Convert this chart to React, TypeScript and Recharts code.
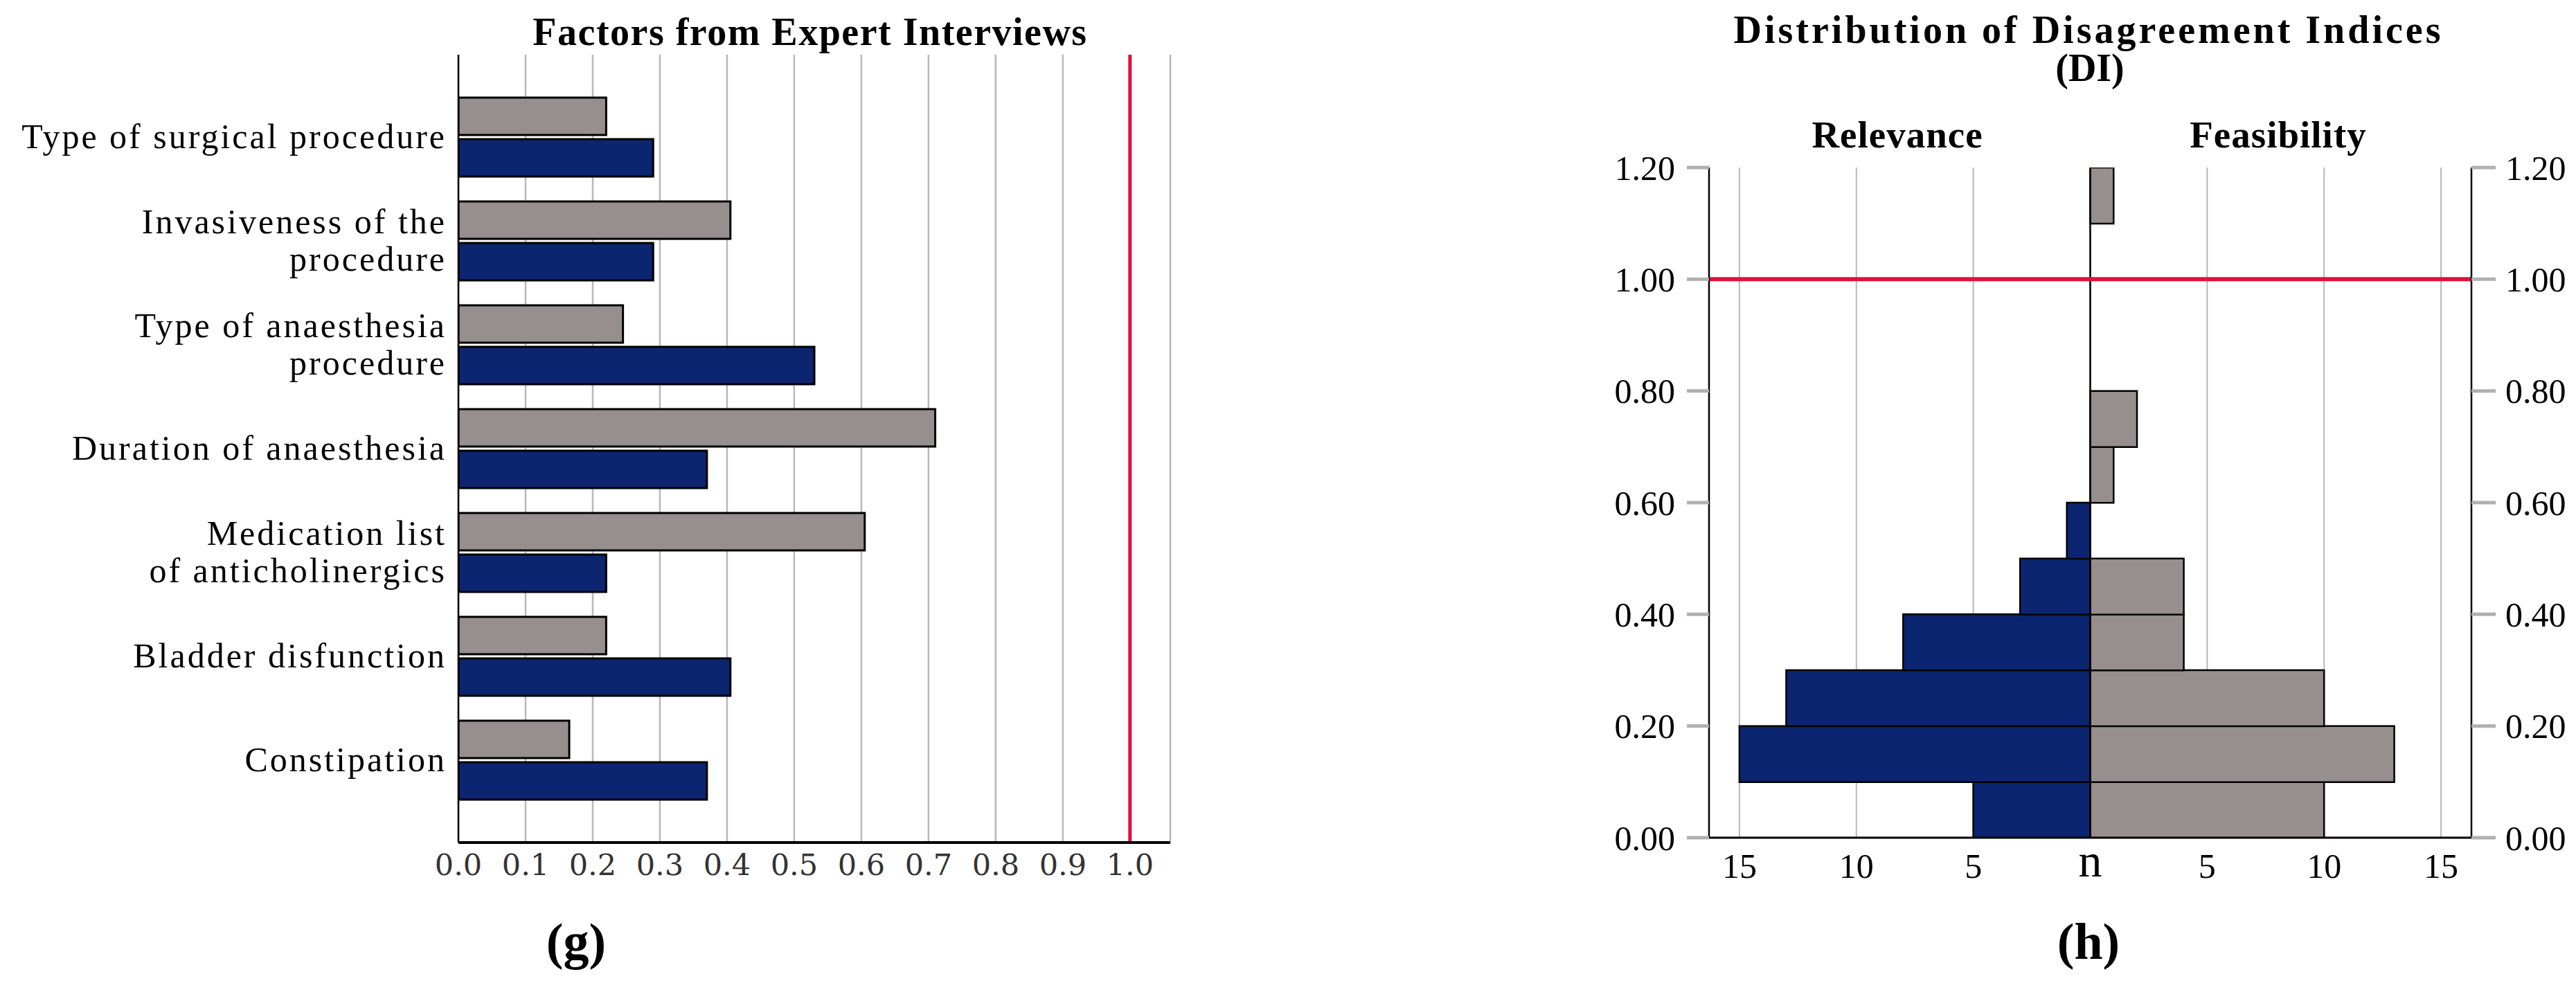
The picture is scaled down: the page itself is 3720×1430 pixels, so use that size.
import React from "react";
import { BarChart, Bar, XAxis, YAxis, CartesianGrid, ReferenceLine } from "recharts";

const SERIF = '"Liberation Serif", "Times New Roman", serif';
const TICK_SERIF = '"DejaVu Serif", serif';

// (g) factors from expert interviews
const factors = [
  "Type of surgical procedure",
  "Invasiveness of the\nprocedure",
  "Type of anaesthesia\nprocedure",
  "Duration of anaesthesia",
  "Medication list\nof anticholinergics",
  "Bladder disfunction",
  "Constipation",
];
const feasibilityDI = [0.22, 0.405, 0.245, 0.71, 0.605, 0.22, 0.165];
const relevanceDI = [0.29, 0.29, 0.53, 0.37, 0.22, 0.405, 0.37];
const diTicks = [0, 0.1, 0.2, 0.3, 0.4, 0.5, 0.6, 0.7, 0.8, 0.9, 1.0];

// (h) distribution of disagreement indices, bins of width 0.1
const binCenters = [0.05, 0.15, 0.25, 0.35, 0.45, 0.55, 0.65, 0.75, 0.85, 0.95, 1.05, 1.15];
const relevanceCounts = [5, 15, 13, 8, 3, 1, 0, 0, 0, 0, 0, 0];
const feasibilityCounts = [10, 13, 10, 4, 4, 0, 1, 2, 0, 0, 0, 1];
const countTicks = [-15, -10, -5, 0, 5, 10, 15];
const indexTicks = [0, 0.2, 0.4, 0.6, 0.8, 1.0, 1.2];

const NAVY = "#0b2570";
const GREY = "#968f8e";
const RED = "#e0103c";

const factorData = factors.map((f, i) => ({
  factor: f,
  feasibility: feasibilityDI[i],
  relevance: relevanceDI[i],
}));

const binData = binCenters.map((c, i) => ({
  di: c,
  relevance: -relevanceCounts[i],
  feasibility: feasibilityCounts[i],
}));

function FactorTick(props: any) {
  const { x, y, payload } = props;
  const lines = String(payload.value).split("\n");
  const lh = 54;
  return (
    <text x={x} y={y} textAnchor="end" fontFamily={SERIF} fontSize={50} letterSpacing={3} fill="#000">
      {lines.map((l, i) => (
        <tspan key={i} x={x} dy={i === 0 ? -((lines.length - 1) * lh) / 2 + 16 : lh}>
          {l}
        </tspan>
      ))}
    </text>
  );
}

function CountTick(props: any) {
  const { x, y, payload } = props;
  const v = payload.value;
  const isZero = v === 0;
  return (
    <text
      x={x}
      y={y}
      dy={isZero ? "0.5em" : "0.71em"}
      textAnchor="middle"
      fontFamily={SERIF}
      fontSize={isZero ? 68 : 50}
      fill="#000"
    >
      {isZero ? "n" : Math.abs(v)}
    </text>
  );
}

function FactorsChart() {
  return (
    <BarChart
      width={1720}
      height={1300}
      layout="vertical"
      data={factorData}
      margin={{ top: 79, right: 30, bottom: 0, left: 0 }}
      barSize={54}
      barGap={6}
    >
      <CartesianGrid horizontal={false} stroke="#b8b8b8" strokeWidth={2.5} />
      <XAxis
        type="number"
        domain={[0, 1.06]}
        ticks={diTicks}
        allowDataOverflow
        height={83}
        tickLine={false}
        tickSize={0}
        tickMargin={16}
        axisLine={{ stroke: "#000", strokeWidth: 4 }}
        tick={{ fontFamily: TICK_SERIF, fontSize: 43, fill: "#333" }}
        tickFormatter={(v: number) => v.toFixed(1)}
      />
      <YAxis
        type="category"
        dataKey="factor"
        width={662}
        tickLine={false}
        tickSize={0}
        tickMargin={17}
        padding={{ top: 44, bottom: 44 }}
        axisLine={{ stroke: "#000", strokeWidth: 2.5 }}
        tick={<FactorTick />}
        interval={0}
      />
      <ReferenceLine x={1} stroke={RED} strokeWidth={5} />
      <Bar dataKey="feasibility" name="Feasibility" fill={GREY} stroke="#000" strokeWidth={3} isAnimationActive={false} />
      <Bar dataKey="relevance" name="Relevance" fill={NAVY} stroke="#000" strokeWidth={3} isAnimationActive={false} />
    </BarChart>
  );
}

function DistributionChart() {
  const yTick = { fontFamily: SERIF, fontSize: 50, fill: "#000" };
  return (
    <BarChart
      width={1570}
      height={1300}
      layout="vertical"
      data={binData}
      stackOffset="sign"
      barCategoryGap={0}
      margin={{ top: 242, right: 0, bottom: 0, left: 0 }}
    >
      <CartesianGrid horizontal={false} stroke="#b8b8b8" strokeWidth={2} />
      <XAxis
        type="number"
        domain={[-16.3, 16.3]}
        ticks={countTicks}
        allowDataOverflow
        height={90}
        tickLine={false}
        tickSize={0}
        tickMargin={22}
        axisLine={{ stroke: "#000", strokeWidth: 3 }}
        tick={<CountTick />}
      />
      <YAxis
        yAxisId="left"
        type="number"
        dataKey="di"
        domain={[0, 1.2]}
        ticks={indexTicks}
        reversed
        allowDataOverflow
        width={318}
        tickSize={32}
        tickMargin={17}
        tickLine={{ stroke: "#b0b0b0", strokeWidth: 5 }}
        axisLine={{ stroke: "#000", strokeWidth: 2.5 }}
        tick={yTick}
        tickFormatter={(v: number) => v.toFixed(2)}
      />
      <YAxis
        yAxisId="right"
        orientation="right"
        type="number"
        dataKey="di"
        domain={[0, 1.2]}
        ticks={indexTicks}
        reversed
        allowDataOverflow
        width={151}
        tickSize={35}
        tickMargin={14}
        tickLine={{ stroke: "#b0b0b0", strokeWidth: 5 }}
        axisLine={{ stroke: "#000", strokeWidth: 2.5 }}
        tick={yTick}
        tickFormatter={(v: number) => v.toFixed(2)}
      />
      <Bar yAxisId="left" dataKey="relevance" name="Relevance" stackId="n" fill={NAVY} stroke="#000" strokeWidth={2.5} isAnimationActive={false} />
      <Bar yAxisId="left" dataKey="feasibility" name="Feasibility" stackId="n" fill={GREY} stroke="#000" strokeWidth={2.5} isAnimationActive={false} />
      <ReferenceLine yAxisId="left" x={0} stroke="#000" strokeWidth={2.5} />
      <ReferenceLine yAxisId="left" y={1} stroke={RED} strokeWidth={6} />
    </BarChart>
  );
}

export default function App() {
  return (
    <div style={{ position: "absolute", left: 0, top: 0, width: 3720, height: 1430, background: "#fff" }}>
      <div style={{ position: "absolute", left: 0, top: 0 }}>
        <FactorsChart />
      </div>
      <div style={{ position: "absolute", left: 2150, top: 0 }}>
        <DistributionChart />
      </div>
      <svg width={3720} height={1430} style={{ position: "absolute", left: 0, top: 0, pointerEvents: "none" }}>
        <g fontFamily={SERIF} fontWeight="bold" textAnchor="middle" fill="#000">
          <text x={1170} y={65} fontSize={56} letterSpacing={1.5}>Factors from Expert Interviews</text>
          <text x={3016} y={62} fontSize={56} letterSpacing={4}>Distribution of Disagreement Indices</text>
          <text x={3018} y={117} fontSize={56}>(DI)</text>
          <text x={2740} y={213} fontSize={55} letterSpacing={1}>Relevance</text>
          <text x={3290} y={213} fontSize={55} letterSpacing={1}>Feasibility</text>
          <text x={832} y={1385} fontSize={74}>(g)</text>
          <text x={3016} y={1385} fontSize={74}>(h)</text>
        </g>
      </svg>
    </div>
  );
}
